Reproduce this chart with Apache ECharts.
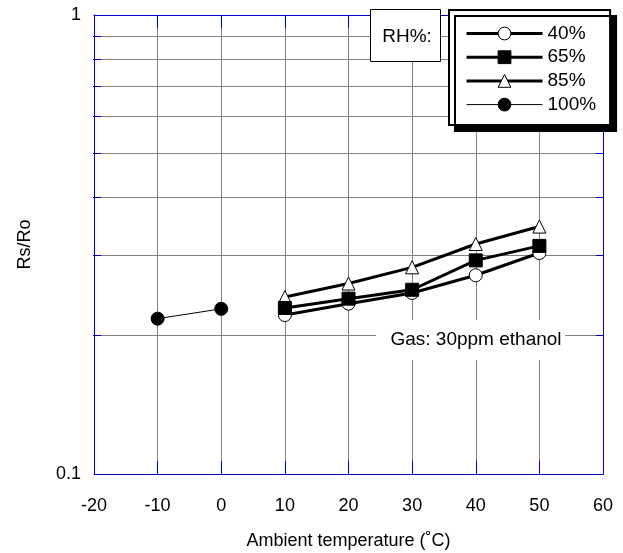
<!DOCTYPE html>
<html>
<head>
<meta charset="utf-8">
<script src="https://cdn.jsdelivr.net/npm/echarts@6/dist/echarts.min.js"></script>
<style>
  html, body { margin: 0; padding: 0; background: #fff; }
  #chart { width: 623px; height: 553px; }
</style>
</head>
<body>
<div id="chart"></div>
<script>
// data
const temps = [10, 20, 30, 40, 50]
const tempsCold = [-10, 0]
const rh40 = [0.222, 0.235, 0.248, 0.271, 0.303]
const rh65 = [0.230, 0.241, 0.252, 0.292, 0.314]
const rh85 = [0.243, 0.260, 0.282, 0.317, 0.346]
const rh100 = [0.218, 0.229]
const minorLines = [0.2, 0.3, 0.4, 0.5, 0.6, 0.7, 0.8, 0.9]
const xMin = -20, xMax = 60, xStep = 10
const yMin = 0.1, yMax = 1

const FONT = 'Liberation Sans, Arial, sans-serif'
const BLUE = '#0000cc'
const GRAY = '#808080'

const pairs = (xs, ys) => xs.map((x, i) => [x, ys[i]])
const crisp = v => Math.round(v - 0.5) + 0.5

const chart = echarts.init(document.getElementById('chart'))

const option = {
  backgroundColor: '#fff',
  animation: false,
  grid: { left: 94, right: 20, top: 15, bottom: 79, containLabel: false, outerBoundsMode: 'none' },
  xAxis: [
    {
      type: 'value', min: xMin, max: xMax, interval: xStep,
      name: 'Ambient temperature (˚C)', nameLocation: 'middle', nameGap: 58,
      nameTextStyle: { fontFamily: FONT, fontSize: 18, color: '#000' },
      axisLine: { onZero: false, lineStyle: { color: BLUE, width: 1 } },
      axisTick: { inside: true, length: 13, lineStyle: { color: BLUE, width: 1 } },
      axisLabel: { fontFamily: FONT, fontSize: 18, color: '#000', margin: 23 },
      splitLine: { show: true, lineStyle: { color: GRAY, width: 1 } }
    },
    {
      type: 'value', position: 'top', min: xMin, max: xMax, interval: xStep,
      axisLine: { onZero: false, lineStyle: { color: BLUE, width: 1 } },
      axisTick: { inside: true, length: 13, lineStyle: { color: BLUE, width: 1 } },
      axisLabel: { show: false },
      splitLine: { show: false }
    }
  ],
  yAxis: [
    {
      type: 'log', logBase: 10, min: yMin, max: yMax,
      name: 'Rs/Ro', nameLocation: 'middle', nameGap: 60,
      nameTextStyle: { fontFamily: FONT, fontSize: 18, color: '#000' },
      axisLine: { show: true, onZero: false, lineStyle: { color: BLUE, width: 1 } },
      axisTick: { show: false },
      axisLabel: { fontFamily: FONT, fontSize: 18, color: '#000', margin: 13 },
      splitLine: { show: false }
    },
    {
      type: 'log', logBase: 10, min: yMin, max: yMax, position: 'right',
      axisLine: { show: true, onZero: false, lineStyle: { color: BLUE, width: 1 } },
      axisTick: { show: false },
      axisLabel: { show: false },
      splitLine: { show: false }
    }
  ],
  legend: {
    orient: 'vertical', left: 449, top: 10,
    data: ['40%', '65%', '85%', '100%'],
    itemWidth: 76, itemHeight: 16, itemGap: 4.7,
    padding: [14, 14, 11, 16],
    backgroundColor: '#fff', borderColor: '#000', borderWidth: 2,
    shadowColor: '#000', shadowBlur: 0, shadowOffsetX: 6, shadowOffsetY: 6,
    lineStyle: { width: 'inherit' },
    itemStyle: { borderWidth: 'inherit' },
    textStyle: { fontFamily: FONT, fontSize: 19, color: '#000' }
  },
  graphic: [
    { type: 'rect', left: 370, top: 9, z: 100,
      shape: { width: 70, height: 52 },
      style: { fill: '#fff', stroke: '#000', lineWidth: 1 } },
    { type: 'text', x: 407, y: 37, z: 101,
      style: { text: 'RH%:', font: '19px ' + FONT, fill: '#000', align: 'center', verticalAlign: 'middle' } },
    { type: 'rect', left: 376, top: 320, z: 100,
      shape: { width: 189, height: 40 },
      style: { fill: '#fff' } },
    { type: 'text', x: 476, y: 340, z: 101,
      style: { text: 'Gas: 30ppm ethanol', font: '19px ' + FONT, fill: '#000', align: 'center', verticalAlign: 'middle' } }
  ],
  series: [
    {
      // minor log gridlines with short blue ticks on both sides
      type: 'custom', silent: true, z: 1,
      encode: { x: 0, y: 1 },
      data: pairs(minorLines.map(() => xMin), minorLines),
      renderItem: function (params, api) {
        const v = api.value(1)
        const a = api.coord([xMin, v])
        const b = api.coord([xMax, v])
        const y = crisp(a[1])
        return {
          type: 'group',
          children: [
            { type: 'line', shape: { x1: a[0], y1: y, x2: b[0], y2: y },
              style: { stroke: GRAY, lineWidth: 1 } },
            { type: 'line', shape: { x1: a[0] - 1, y1: y, x2: a[0] + 7, y2: y },
              style: { stroke: BLUE, lineWidth: 1 } },
            { type: 'line', shape: { x1: b[0] - 7, y1: y, x2: b[0] + 1, y2: y },
              style: { stroke: BLUE, lineWidth: 1 } }
          ]
        }
      }
    },
    {
      name: '85%', type: 'line', z: 3,
      data: pairs(temps, rh85),
      symbol: 'triangle', symbolSize: 13,
      lineStyle: { color: '#000', width: 3 },
      itemStyle: { color: '#fff', borderColor: '#000', borderWidth: 1 }
    },
    {
      name: '40%', type: 'line', z: 3,
      data: pairs(temps, rh40),
      symbol: 'circle', symbolSize: 13,
      lineStyle: { color: '#000', width: 3 },
      itemStyle: { color: '#fff', borderColor: '#000', borderWidth: 1 }
    },
    {
      name: '65%', type: 'line', z: 4,
      data: pairs(temps, rh65),
      symbol: 'rect', symbolSize: 13,
      lineStyle: { color: '#000', width: 3 },
      itemStyle: { color: '#000', borderColor: '#000', borderWidth: 1 }
    },
    {
      name: '100%', type: 'line', z: 3,
      data: pairs(tempsCold, rh100),
      symbol: 'circle', symbolSize: 13,
      lineStyle: { color: '#000', width: 1 },
      itemStyle: { color: '#000', borderColor: '#000', borderWidth: 1 }
    }
  ]
}

chart.setOption(option)
</script>
</body>
</html>
